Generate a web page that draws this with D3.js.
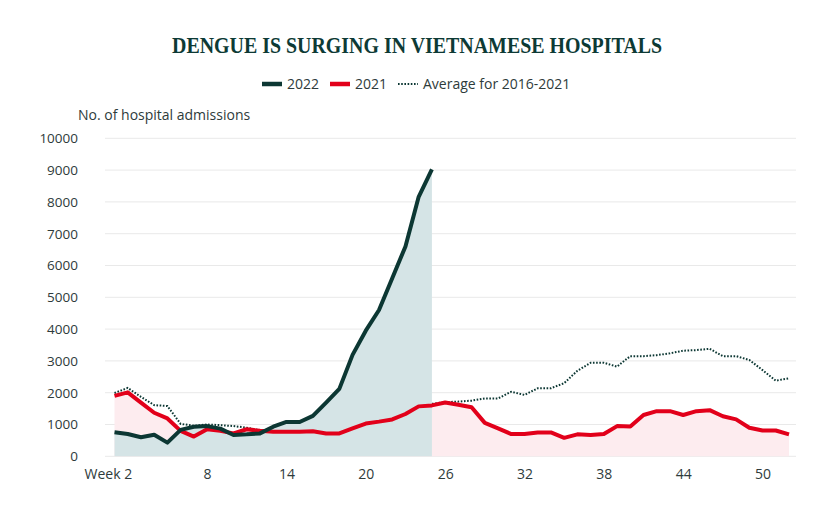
<!DOCTYPE html>
<html>
<head>
<meta charset="utf-8">
<script src="https://cdn.jsdelivr.net/npm/d3@7"></script>
<style>
  html, body { margin: 0; padding: 0; background: #ffffff; }
  svg { display: block; }
</style>
</head>
<body>
<div id="chart"></div>
<script>
// ---- Data ----
const weeks = d3.range(1, 53);
const values2022 = [755, 700, 600, 680, 430, 830, 930, 950, 870, 670, 690, 720, 930, 1080, 1080, 1270, 1690, 2120, 3190, 3950, 4600, 5600, 6600, 8160, 9020];
const values2021 = [1900, 2010, 1690, 1370, 1190, 800, 620, 850, 800, 720, 850, 800, 770, 770, 770, 790, 720, 720, 880, 1030, 1090, 1160, 1330, 1570, 1600, 1690, 1620, 1540, 1050, 880, 700, 700, 750, 750, 580, 690, 670, 700, 950, 940, 1300, 1420, 1420, 1300, 1420, 1450, 1260, 1160, 900, 810, 810, 690];
const valuesAvg = [1990, 2150, 1870, 1610, 1580, 1020, 960, 1000, 980, 950, 900, 820, 780, 800, 850, 900, 950, 1050, 1150, 1250, 1350, 1450, 1550, 1600, 1650, 1700, 1720, 1750, 1820, 1820, 2030, 1930, 2140, 2140, 2300, 2690, 2940, 2940, 2820, 3150, 3150, 3180, 3240, 3320, 3340, 3380, 3150, 3150, 3030, 2710, 2380, 2450];
const yTicks = [0, 1000, 2000, 3000, 4000, 5000, 6000, 7000, 8000, 9000, 10000];
const xTicks = [2, 8, 14, 20, 26, 32, 38, 44, 50];
const legendItems = [
  { key: "2022", label: "2022" },
  { key: "2021", label: "2021" },
  { key: "avg", label: "Average for 2016-2021" }
];
const titleText = "DENGUE IS SURGING IN VIETNAMESE HOSPITALS";
const yAxisTitle = "No. of hospital admissions";

// ---- Layout / style ----
const W = 834, H = 532;
const plotLeft = 105, plotRight = 796;
const C = {
  dark: "#0c3733",
  red: "#e2001a",
  blueFill: "#d5e4e6",
  pinkFill: "#fdecef",
  grid: "#e9e9e9",
  text: "#2e3b3b",
  title: "#0d3a35"
};
const FONT = "'Open Sans', 'Noto Sans', sans-serif";

const svg = d3.select("#chart").append("svg")
  .attr("width", W).attr("height", H)
  .style("font-family", FONT);

const x = d3.scaleLinear().domain([1, 52]).range([114.5, 789]);
const y = d3.scaleLinear().domain([0, 10000]).range([456.3, 138.3]);

// Title
svg.append("text")
  .attr("x", W / 2).attr("y", 52.5)
  .attr("text-anchor", "middle")
  .attr("textLength", 490)
  .attr("lengthAdjust", "spacingAndGlyphs")
  .style("font-family", "'Liberation Serif', 'DejaVu Serif', serif")
  .style("font-weight", "700")
  .style("font-size", "23.5px")
  .style("fill", C.title)
  .text(titleText);

// Legend
const legendX = { "2022": 262, "2021": 330, "avg": 398 };
const lg = svg.append("g");
legendItems.forEach(it => {
  const x0 = legendX[it.key];
  const line = lg.append("line")
    .attr("x1", x0).attr("x2", x0 + 20)
    .attr("y1", 84).attr("y2", 84);
  if (it.key === "2022") line.attr("stroke", C.dark).attr("stroke-width", 4.5);
  else if (it.key === "2021") line.attr("stroke", C.red).attr("stroke-width", 4.5);
  else line.attr("stroke", C.dark).attr("stroke-width", 2).attr("stroke-dasharray", "1.6,1.6");
  lg.append("text")
    .attr("x", x0 + 25).attr("y", 89)
    .style("font-size", "14px")
    .style("fill", C.text)
    .text(it.label);
});

// Y axis title
svg.append("text")
  .attr("x", 78).attr("y", 120)
  .style("font-size", "14px")
  .style("fill", C.text)
  .text(yAxisTitle);

// Gridlines
svg.append("g").selectAll("line")
  .data(yTicks).join("line")
  .attr("x1", plotLeft).attr("x2", plotRight)
  .attr("y1", d => y(d)).attr("y2", d => y(d))
  .attr("stroke", C.grid).attr("stroke-width", 1);

// Y axis labels
const yAxis = d3.axisLeft(y).tickValues(yTicks).tickSize(0).tickPadding(0).tickFormat(d3.format("d"));
const yg = svg.append("g").attr("transform", "translate(78,0)").call(yAxis);
yg.select(".domain").remove();
yg.selectAll("text").style("font-size", "13.5px").style("fill", C.text).style("font-family", FONT);

// Areas
const d2021 = values2021.map((v, i) => ({ w: weeks[i], v }));
const d2022 = values2022.map((v, i) => ({ w: weeks[i], v }));
const dAvg = valuesAvg.map((v, i) => ({ w: weeks[i], v }));

const area = d3.area().x(d => x(d.w)).y0(y(0)).y1(d => y(d.v));
const line = d3.line().x(d => x(d.w)).y(d => y(d.v));

svg.append("path").datum(d2021).attr("d", area).attr("fill", C.pinkFill);
svg.append("path").datum(dAvg).attr("d", line)
  .attr("fill", "none").attr("stroke", C.dark).attr("stroke-width", 2)
  .attr("stroke-dasharray", "1.6,1.6");
svg.append("path").datum(d2022).attr("d", area).attr("fill", C.blueFill);
svg.append("path").datum(d2021).attr("d", line)
  .attr("fill", "none").attr("stroke", C.red).attr("stroke-width", 4)
  .attr("stroke-linejoin", "round");
svg.append("path").datum(d2022).attr("d", line)
  .attr("fill", "none").attr("stroke", C.dark).attr("stroke-width", 4)
  .attr("stroke-linejoin", "round");

// X axis labels
const xAxis = d3.axisBottom(x).tickValues(xTicks).tickSize(0).tickPadding(0)
  .tickFormat(d => d === 2 ? "Week 2" : String(d));
const xg = svg.append("g").attr("transform", "translate(0,466)").call(xAxis);
xg.select(".domain").remove();
xg.selectAll("text")
  .style("font-size", "14px").style("fill", C.text).style("font-family", FONT)
  .attr("dy", "0.95em")
  .each(function(d) {
    if (d === 2) d3.select(this).attr("text-anchor", "end").attr("dx", "4");
  });
</script>
</body>
</html>
